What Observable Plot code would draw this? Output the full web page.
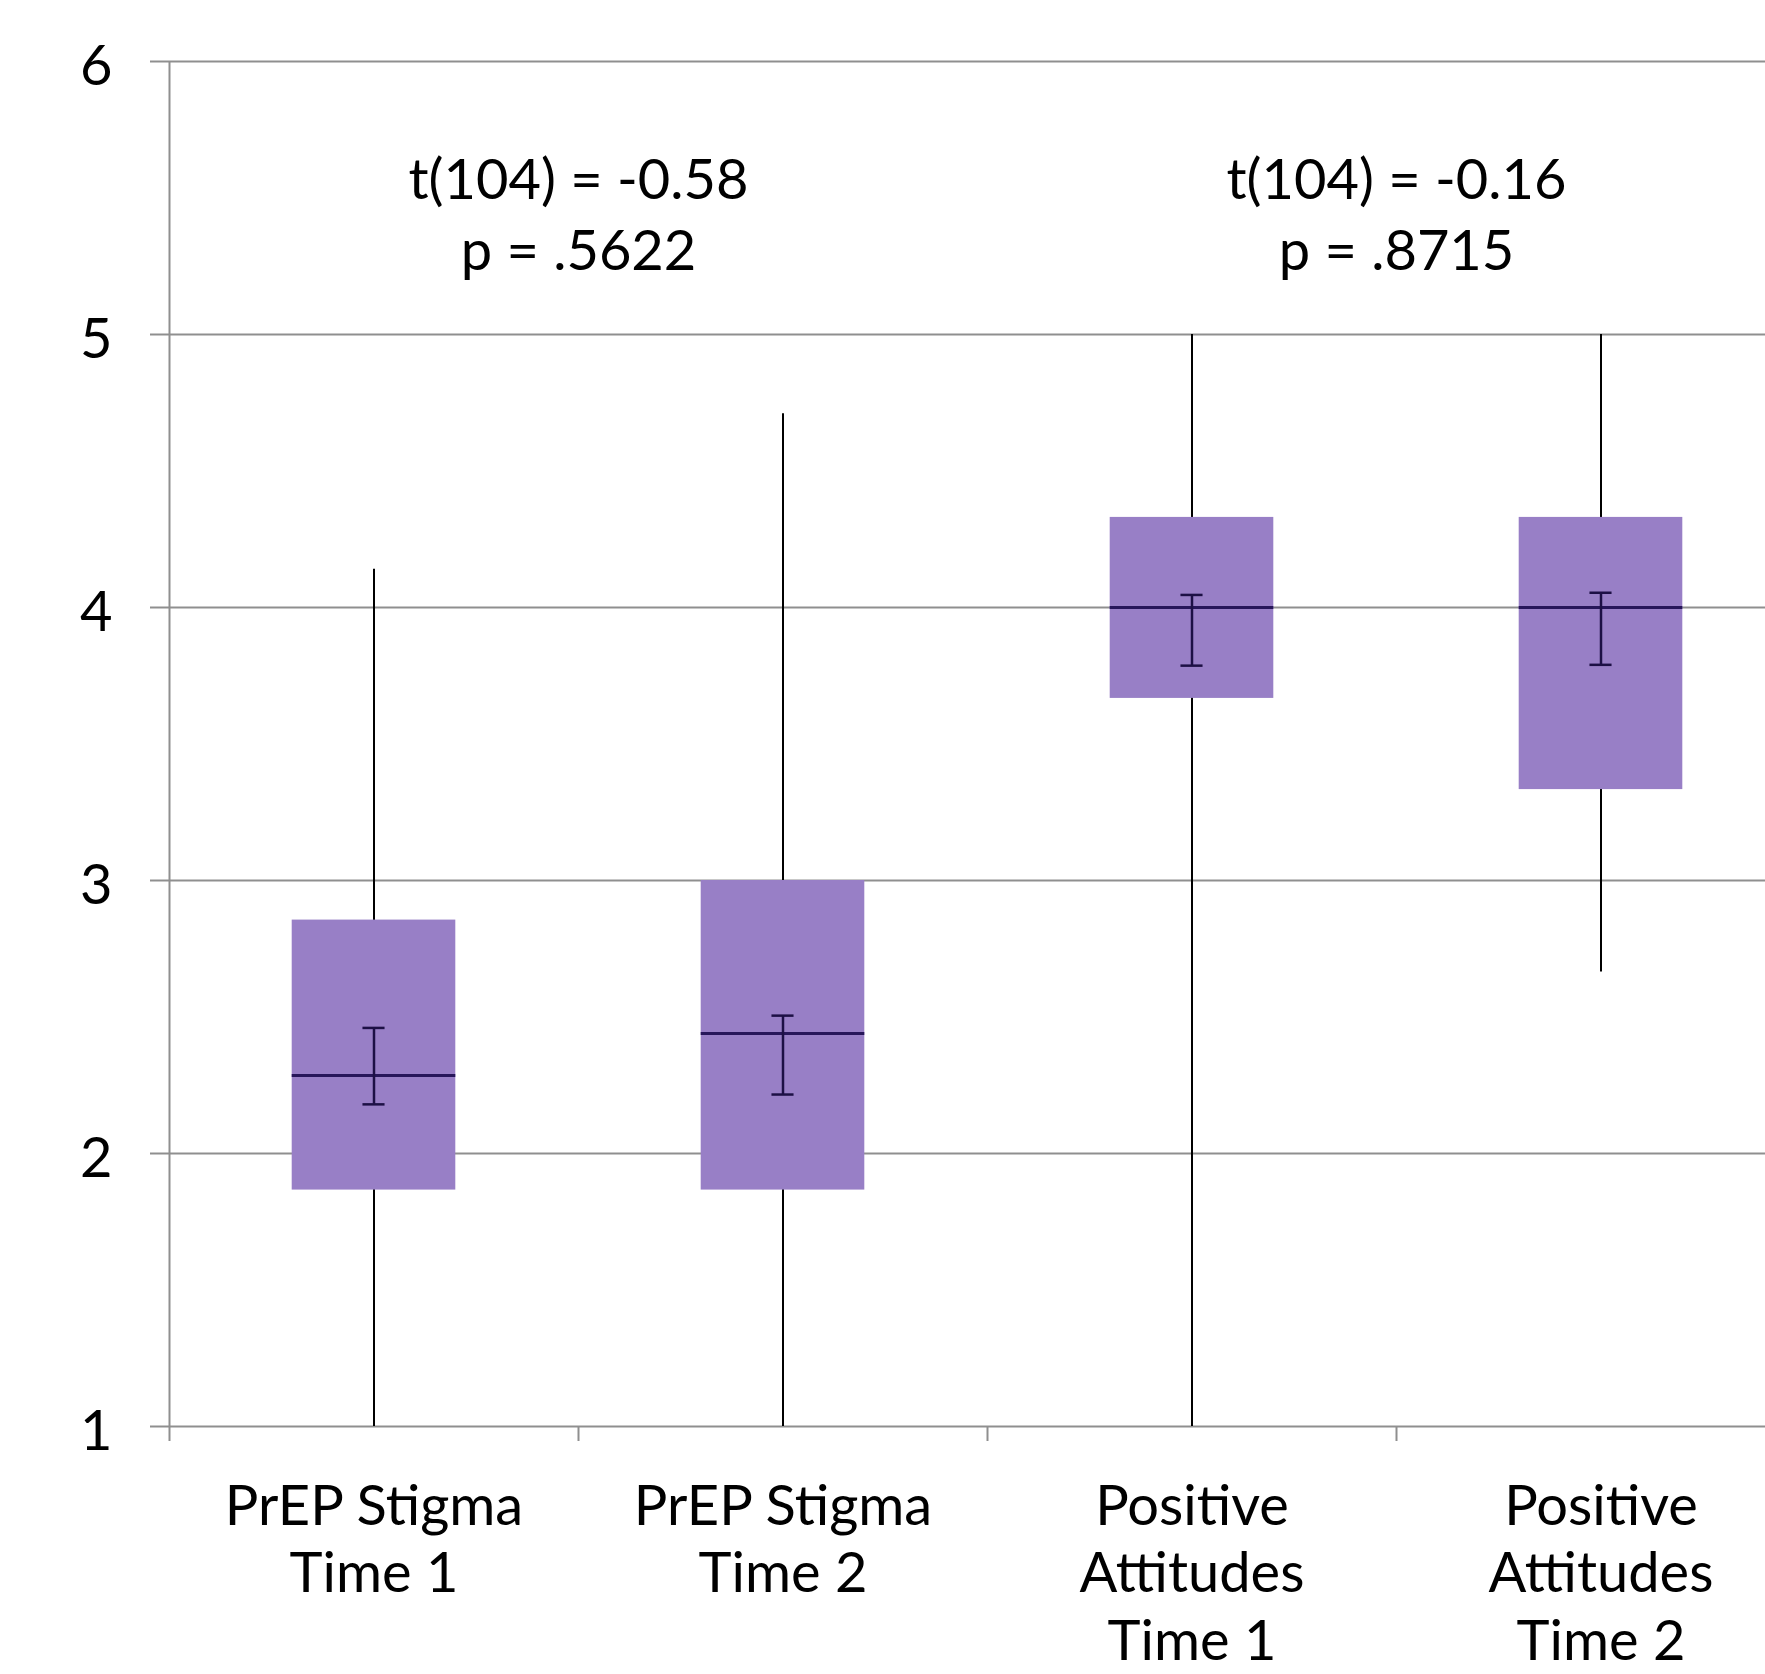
<!DOCTYPE html>
<html>
<head>
<meta charset="utf-8">
<script src="https://cdn.jsdelivr.net/npm/d3@7"></script>
<script src="https://cdn.jsdelivr.net/npm/@observablehq/plot@0.6"></script>
<style>
  html, body { margin: 0; padding: 0; background: #fff; overflow: hidden; }
  #chart svg { display: block; }
</style>
</head>
<body>
<div id="chart"></div>
<script>
// Categories (x labels, with line breaks)
const categories = [
  "PrEP Stigma\nTime 1",
  "PrEP Stigma\nTime 2",
  "Positive\nAttitudes\nTime 1",
  "Positive\nAttitudes\nTime 2"
];
// Box plot values
const whiskerLow  = [1.0, 1.0, 1.0, 2.665];
const whiskerHigh = [4.14, 4.71, 5.0, 5.0];
const q1          = [1.866, 1.866, 3.667, 3.333];
const q3          = [2.855, 3.0, 4.33, 4.33];
const medians     = [2.286, 2.44, 4.0, 4.0];
// Error bars (mean ± CI)
const errLow      = [2.18, 2.216, 3.787, 3.79];
const errHigh     = [2.46, 2.505, 4.046, 4.054];
// Annotations between pairs
const annotPairs  = [[0, 1], [2, 3]];
const annotTexts  = ["t(104) = -0.58\np = .5622", "t(104) = -0.16\np = .8715"];
const annotY      = [5.45, 5.45];
const yTicks      = [1, 2, 3, 4, 5, 6];

const rows = categories.map((c, i) => ({
  i, c,
  lo: whiskerLow[i], hi: whiskerHigh[i],
  q1: q1[i], q3: q3[i], med: medians[i],
  eLo: errLow[i], eHi: errHigh[i]
}));
const annots = annotPairs.map((p, k) => ({
  x: (p[0] + p[1]) / 2 + 0.5, y: annotY[k], text: annotTexts[k]
}));

const BOX_HALF = 0.2;    // box half width (fraction of band)
const CAP_HALF = 0.027;  // error cap half width
const FONT = "Lato, 'Open Sans', sans-serif";
const GRID = "#8f8f8f";

const chart = Plot.plot({
  width: 1765,
  height: 1674,
  marginLeft: 169,
  marginTop: 61,
  marginBottom: 248,
  marginRight: 0,
  style: { fontFamily: FONT, background: "#fff", overflow: "visible" },
  x: { type: "linear", domain: [0, 4], range: [169, 1805] },
  y: { domain: [1, 6] },
  marks: [
    // horizontal gridlines with left ticks
    Plot.ruleY(yTicks, { stroke: GRID, strokeWidth: 2 }),
    Plot.axisY({
      ticks: yTicks, tickSize: 19, stroke: GRID, strokeWidth: 2,
      text: null, label: null
    }),
    Plot.axisY({
      ticks: yTicks, tickSize: 0, tickPadding: 57, dy: 6,
      fontSize: 56, fill: "#000", label: null, tickFormat: d => String(d)
    }),
    // vertical y-axis line
    Plot.ruleX([0], { y1: 1, y2: 6, stroke: GRID, strokeWidth: 2 }),
    // category boundary ticks
    Plot.axisX({
      ticks: [0, 1, 2, 3], tickSize: 15, stroke: GRID, strokeWidth: 2,
      text: null, label: null
    }),
    // category labels
    Plot.axisX({
      ticks: categories.map((c, i) => i + 0.5), tickSize: 0, tickPadding: 50,
      tickFormat: d => categories[Math.floor(d)], fontSize: 56, fill: "#000",
      lineHeight: 1.21, label: null
    }),
    // whiskers
    Plot.ruleX(rows, { x: d => d.i + 0.5, y1: "lo", y2: "hi", stroke: "#000", strokeWidth: 2 }),
    // boxes
    Plot.rect(rows, {
      x1: d => d.i + 0.5 - BOX_HALF, x2: d => d.i + 0.5 + BOX_HALF,
      y1: "q1", y2: "q3", fill: "#987fc6"
    }),
    // medians
    Plot.ruleY(rows, {
      x1: d => d.i + 0.5 - BOX_HALF, x2: d => d.i + 0.5 + BOX_HALF,
      y: "med", stroke: "#27165a", strokeWidth: 3
    }),
    // error bars
    Plot.ruleX(rows, { x: d => d.i + 0.5, y1: "eLo", y2: "eHi", stroke: "#1d1045", strokeWidth: 2.5 }),
    Plot.ruleY(rows, {
      x1: d => d.i + 0.5 - CAP_HALF, x2: d => d.i + 0.5 + CAP_HALF,
      y: "eLo", stroke: "#1d1045", strokeWidth: 2.5
    }),
    Plot.ruleY(rows, {
      x1: d => d.i + 0.5 - CAP_HALF, x2: d => d.i + 0.5 + CAP_HALF,
      y: "eHi", stroke: "#1d1045", strokeWidth: 2.5
    }),
    // annotations
    Plot.text(annots, {
      x: "x", y: "y", text: "text", fontSize: 56, fill: "#000",
      lineHeight: 1.27, lineAnchor: "middle", textAnchor: "middle"
    })
  ]
});
document.getElementById("chart").append(chart);
</script>
</body>
</html>
